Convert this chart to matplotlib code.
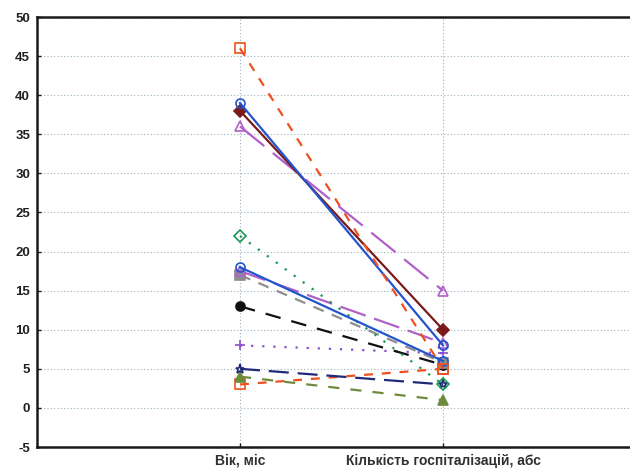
import matplotlib
matplotlib.use('Agg')
import matplotlib.pyplot as plt

categories = ['Вік, міс', 'Кількість госпіталізацій, абс']

# each series: value at first category, value at second category
red_sq = [46, 5]
blue_1 = [39, 8]
maroon = [38, 10]
purple_1 = [36, 15]
green_dot = [22, 3]
blue_2 = [18, 6]
purple_2 = [17.5, 8.3]
gray = [17, 5.8]
black = [13, 5.5]
purple_dot = [8, 7]
navy = [5, 3]
olive = [4, 1]
red_sq2 = [3, 5]

plt.rcParams['font.family'] = ['Liberation Sans', 'DejaVu Sans']
plt.rcParams['axes.unicode_minus'] = False

fig = plt.figure(figsize=(6.3, 4.68), dpi=100)
ax = fig.add_axes([37 / 630, 21 / 468, 598 / 630, 430 / 468])

x = [1, 2]
series = [
    (red_sq2, '#F0501E', (0, (4, 4)), 's', 'none'),
    (olive, '#6E8B3D', (0, (5, 5)), '^', '#6E8B3D'),
    (navy, '#1F2A78', (0, (9, 4)), '*', 'none'),
    (purple_dot, '#8A4FD0', (0, (1, 4)), '+', 'none'),
    (black, '#101010', (0, (7, 5)), 'o', '#101010'),
    (gray, '#8E8E8E', (0, (5, 4)), 's', '#8E8E8E'),
    (purple_2, '#B060C8', (0, (12, 4)), '^', 'none'),
    (green_dot, '#1A9A50', (0, (1, 4)), 'D', 'none'),
    (blue_2, '#2255CC', '-', 'o', 'none'),
    (purple_1, '#B060C8', (0, (14, 5)), '^', 'none'),
    (maroon, '#7B1A1A', '-', 'D', '#7B1A1A'),
    (blue_1, '#2255CC', '-', 'o', 'none'),
    (red_sq, '#F0501E', (0, (4, 4)), 's', 'none'),
]
for vals, col, ls, mk, mfc in series:
    ax.plot(x, vals, color=col, linestyle=ls, linewidth=1.6,
            marker=mk, markersize=6.5, markerfacecolor=mfc,
            markeredgecolor=col, markeredgewidth=1.2)

ax.set_xlim(0, 598 / 203)
ax.set_ylim(-5, 50)
ax.set_yticks(range(-5, 51, 5))
ax.set_xticks(x)
ax.set_xticklabels(categories)

ax.grid(True, color='#9AAFC0', linestyle=(0, (1, 2)), linewidth=0.8)
ax.set_axisbelow(True)

for s in ['left', 'bottom', 'top']:
    ax.spines[s].set_linewidth(1.8)
    ax.spines[s].set_color('#1a1a1a')
ax.spines['right'].set_visible(False)

ax.tick_params(direction='in', length=3, width=1, colors='#1a1a1a')
for lab in ax.get_yticklabels():
    lab.set_fontweight('bold')
    lab.set_fontsize(9.5)
    lab.set_color('#202020')
for lab in ax.get_xticklabels():
    lab.set_fontweight('bold')
    lab.set_fontsize(10)
    lab.set_color('#303030')
ax.tick_params(axis='y', pad=5)
ax.tick_params(axis='x', pad=5)

fig.savefig('out.png', dpi=100)
